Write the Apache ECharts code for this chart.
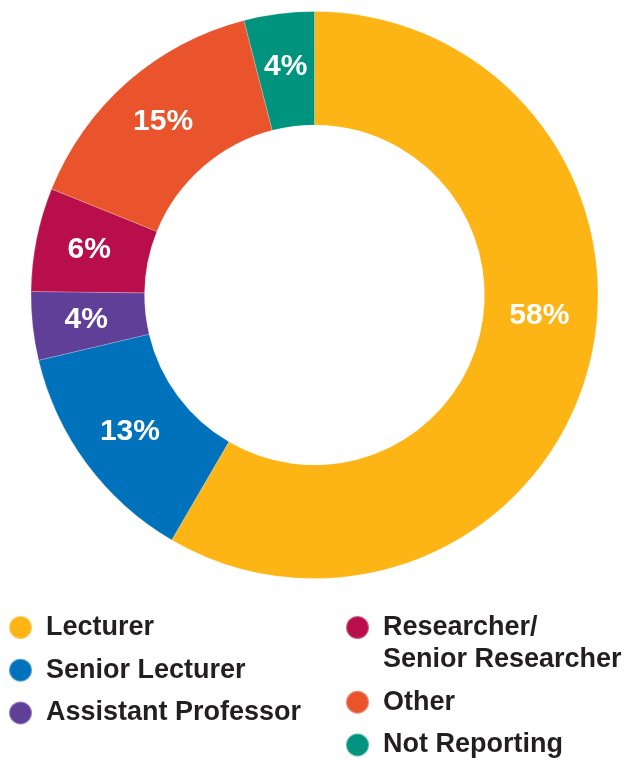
<!DOCTYPE html>
<html>
<head>
<meta charset="utf-8">
<script src="https://cdn.jsdelivr.net/npm/echarts@6/dist/echarts.min.js"></script>
<style>
  html, body { margin: 0; padding: 0; background: #fff; }
  #main { width: 624px; height: 760px; }
</style>
</head>
<body>
<div id="main"></div>
<script>
// 数据（按图中扇区角度估读，标签显示取整后的百分比）
let categories = ['Lecturer', 'Senior Lecturer', 'Assistant Professor', 'Researcher/\nSenior Researcher', 'Other', 'Not Reporting'];
let values = [58.4, 12.9, 3.9, 5.9, 14.9, 4.0];
let colors = ['#FDB415', '#0071BB', '#603F99', '#B80F4A', '#E9542C', '#00937E'];
let leftItems = ['Lecturer', 'Senior Lecturer', 'Assistant Professor'];
let rightItems = ['Researcher/\nSenior Researcher', 'Other', 'Not Reporting'];

let fontFamily = '"Liberation Sans", Arial, sans-serif';

let legendText = {
    color: '#231F20',
    fontSize: 27,
    fontWeight: 'bold',
    fontFamily: fontFamily,
    lineHeight: 32,
    padding: [0, 0, 0, 9]
};

function legendOption(names, left, top) {
    return {
        orient: 'vertical',
        left: left,
        top: top,
        padding: 0,
        icon: 'circle',
        itemWidth: 23,
        itemHeight: 23,
        itemGap: 10.7,
        selectedMode: false,
        textStyle: legendText,
        // 多行文字：前面补一个空行，让圆点对齐第一行
        formatter: function (name) {
            return name.indexOf('\n') > -1 ? '\u00a0\n' + name : name;
        },
        data: names
    };
}

let chart = echarts.init(document.getElementById('main'));
let option = {
    animation: false,
    color: colors,
    legend: [
        legendOption(leftItems, 8, 611.5),
        legendOption(rightItems, 345, 579.5)
    ],
    series: [
        {
            type: 'pie',
            center: [314.5, 295],
            radius: [170, 283.5],
            startAngle: 90,
            clockwise: true,
            avoidLabelOverlap: false,
            silent: true,
            itemStyle: {
                borderColor: 'rgba(255,255,255,0.35)',
                borderWidth: 0.6
            },
            label: {
                show: true,
                position: 'inside',
                formatter: function (params) {
                    return Math.round(params.value) + '%';
                },
                color: '#fff',
                fontSize: 30,
                fontWeight: 'bold',
                fontFamily: fontFamily
            },
            labelLine: {show: false},
            labelLayout: function (params) {
                if (params.dataIndex === 0) {
                    return {dx: 3, dy: -39};
                }
                return {};
            },
            data: categories.map(function (c, i) {
                return {name: c, value: values[i]};
            })
        }
    ]
};
chart.setOption(option);
</script>
</body>
</html>
